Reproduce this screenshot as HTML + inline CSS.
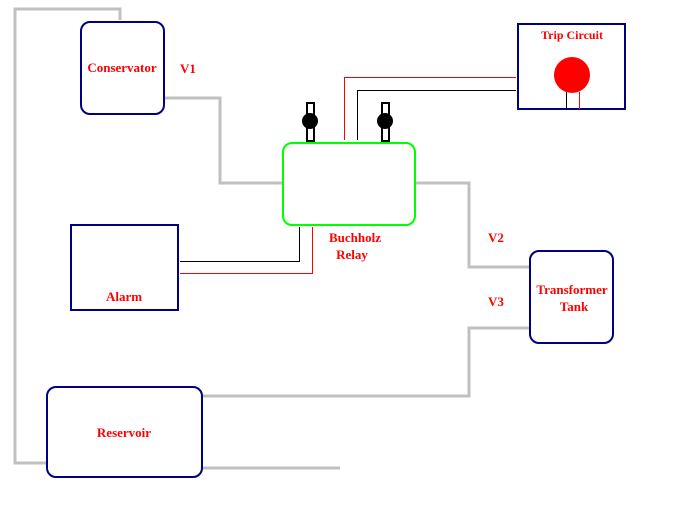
<!DOCTYPE html>
<html><head><style>body{margin:0;background:#fff}</style></head><body>
<svg width="700" height="500" xmlns="http://www.w3.org/2000/svg" font-family="Liberation Serif, serif" font-weight="bold" font-size="13" fill="none">
<g stroke="#c0c0c0" stroke-width="3">
<polyline points="47,463 15,463 15,9 120,9 120,20"/>
<polyline points="164,98 220,98 220,183 282,183"/>
<polyline points="415,183 469,183 469,267 530,267"/>
<polyline points="530,328 469,328 469,396 203,396"/>
<polyline points="202,468 340,468"/>
</g>
<g stroke="#000080" stroke-width="2">
<rect x="81" y="22" width="83" height="92" rx="9"/>
<rect x="71" y="225" width="107" height="85"/>
<rect x="530" y="251" width="83" height="92" rx="9"/>
<rect x="47" y="387" width="155" height="90" rx="9"/>
<rect x="518" y="24" width="107" height="85"/>
</g>
<rect x="283" y="143" width="132" height="82" rx="9" stroke="#00ff00" stroke-width="2"/>
<g shape-rendering="crispEdges" stroke-width="1">
<polyline points="344.5,140 344.5,77.5 516,77.5" stroke="#f00"/>
<polyline points="357.5,140 357.5,90.5 516,90.5" stroke="#000"/>
<polyline points="299.5,227 299.5,261.5 180,261.5" stroke="#000"/>
<polyline points="312.5,227 312.5,273.5 180,273.5" stroke="#f00"/>
<line x1="566.5" y1="92" x2="566.5" y2="109" stroke="#000"/>
<line x1="579.5" y1="92" x2="579.5" y2="109" stroke="#f00"/>
</g>
<circle cx="572" cy="75" r="18" fill="#f00"/>
<g stroke="#000" stroke-width="2" fill="#fff">
<rect x="307" y="103" width="7" height="38"/>
<rect x="382" y="103" width="7" height="38"/>
</g>
<circle cx="310" cy="121" r="8" fill="#000"/>
<circle cx="385" cy="121" r="8" fill="#000"/>
<g fill="#f00" stroke="none">
<text x="122" y="72" text-anchor="middle">Conservator</text>
<text x="180" y="73">V1</text>
<text x="572" y="39" text-anchor="middle" font-size="12">Trip Circuit</text>
<text x="355" y="242" text-anchor="middle">Buchholz</text>
<text x="352" y="259" text-anchor="middle">Relay</text>
<text x="124" y="301" text-anchor="middle">Alarm</text>
<text x="488" y="242">V2</text>
<text x="488" y="306">V3</text>
<text x="572" y="294" text-anchor="middle">Transformer</text>
<text x="574" y="311" text-anchor="middle">Tank</text>
<text x="124" y="437" text-anchor="middle">Reservoir</text>
</g>
</svg>
</body></html>
